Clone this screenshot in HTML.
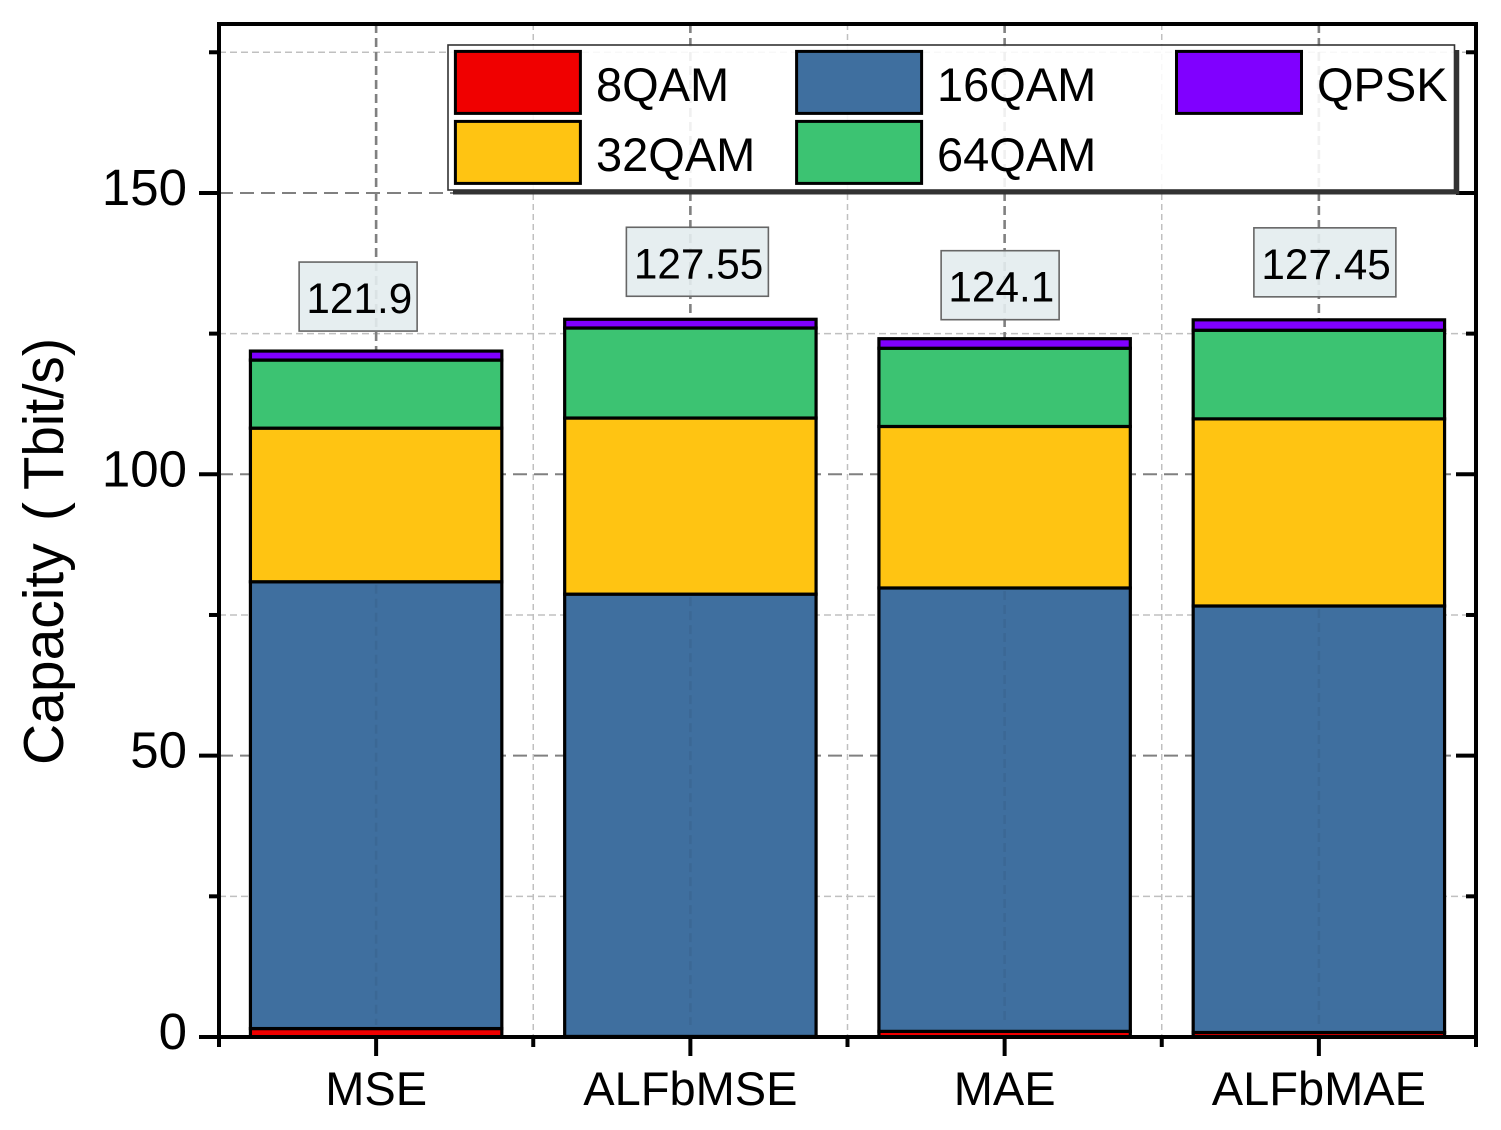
<!DOCTYPE html>
<html lang="en">
<head>
<meta charset="utf-8">
<title>Capacity by loss function</title>
<style>
html,body{margin:0;padding:0;background:#fff;width:1501px;height:1130px;overflow:hidden}
svg{display:block}
text{font-family:"Liberation Sans",Arial,sans-serif;fill:#000}
</style>
</head>
<body>
<svg id="chart" xmlns="http://www.w3.org/2000/svg" width="1501" height="1130" viewBox="0 0 1501 1130"></svg>
<script>
// Chart data
const categories = ['MSE', 'ALFbMSE', 'MAE', 'ALFbMAE'];
const seriesNames = ['8QAM', '16QAM', '32QAM', '64QAM', 'QPSK'];
const qam8 = [1.5, 0.1, 1.0, 0.8];
const qam16 = [79.4, 78.6, 78.8, 75.8];
const qam32 = [27.3, 31.3, 28.7, 33.25];
const qam64 = [12.1, 16.0, 13.9, 15.75];
const qpsk = [1.6, 1.55, 1.7, 1.85];
const totals = ['121.9', '127.55', '124.1', '127.45'];
const yMajorTicks = [0, 50, 100, 150];
const yMinorTicks = [25, 75, 125, 175];

// Layout
const NS = 'http://www.w3.org/2000/svg';
const svg = document.getElementById('chart');
const plot = {left: 219, right: 1476, top: 24, bottom: 1037};
const yPerUnit = 5.627;
const xSlot = (plot.right - plot.left) / categories.length;
const barWidth = xSlot * 0.8;
const colors = ['#F00000', '#3F6F9F', '#FFC412', '#3CC372', '#8000FF'];
const seriesValues = [qam8, qam16, qam32, qam64, qpsk];
const sum = (i, n) => seriesValues.slice(0, n).reduce((s, v) => s + v[i], 0);
const yScale = v => plot.bottom - v * yPerUnit;
const xScale = i => plot.left + xSlot * (i + 0.5);

function make(tag, attrs, parent, txt) {
  const el = document.createElementNS(NS, tag);
  for (const k in attrs) el.setAttribute(k, attrs[k]);
  if (txt !== undefined) el.textContent = txt;
  (parent || svg).appendChild(el);
  return el;
}

// Grid
const gridLayer = make('g', {});


yMajorTicks.slice(1).forEach(v => {
  const l = make('line', {x1: plot.left, x2: plot.right, y1: yScale(v), y2: yScale(v), stroke: '#808080', 'stroke-width': 2, 'stroke-dasharray': '14 7'}, gridLayer);
  
  
});
yMinorTicks.forEach(v => {
  const l = make('line', {x1: plot.left, x2: plot.right, y1: yScale(v), y2: yScale(v), stroke: '#c0c0c0', 'stroke-width': 1.5, 'stroke-dasharray': '7 4'}, gridLayer);
  
  
});
categories.forEach((c, i) => {
  const l = make('line', {x1: xScale(i), x2: xScale(i), y1: plot.top, y2: plot.bottom, stroke: '#808080', 'stroke-width': 2.6, 'stroke-dasharray': '9 5'}, gridLayer);
  
  
});
for (let i = 1; i < categories.length; i++) {
  const x = plot.left + xSlot * i;
  const l = make('line', {x1: x, x2: x, y1: plot.top, y2: plot.bottom, stroke: '#c0c0c0', 'stroke-width': 1.5, 'stroke-dasharray': '6 4'}, gridLayer);
  
  
}

// Stacked bars
categories.forEach((c, i) => {
  const group = make('g', {});
  
  
  seriesNames.forEach((name, s) => {
    const y0 = yScale(sum(i, s));
    const y1 = yScale(sum(i, s + 1));
    const r = make('rect', {x: xScale(i) - barWidth / 2, y: y1, width: barWidth, height: y0 - y1, fill: colors[s], stroke: '#000', 'stroke-width': 3.2}, group);
    
    
  });
  // the centre gridline shows faintly through the bar
  const ghost = make('line', {x1: xScale(i), x2: xScale(i), y1: yScale(sum(i, 2)) + 3, y2: plot.bottom - 12, stroke: '#000', 'stroke-opacity': 0.06, 'stroke-width': 2.6, 'stroke-dasharray': '9 5'}, group);
  
  
});

// Total value labels, offset from their bar by hand as in the original figure
const labelShiftX = [-18, 7, -4.5, 6];
const labelGapY = [20, 23, 19, 23];
totals.forEach((t, i) => {
  const top = yScale(sum(i, seriesNames.length));
  const w = t.length > 5 ? 142 : 118;
  const cx = xScale(i) + labelShiftX[i];
  const bottom = top - labelGapY[i];
  const box = make('rect', {x: cx - w / 2, y: bottom - 69, width: w, height: 69, fill: '#E3ECEE', 'fill-opacity': 0.9, stroke: '#666', 'stroke-width': 1.6});
  
  
  const label = make('text', {x: cx + 1.2, y: bottom - 18, 'text-anchor': 'middle', 'font-size': 42.3}, svg, t);
  
  
});

// Axes and ticks
const axisLayer = make('g', {stroke: '#000', 'stroke-width': 4});


const frame = make('rect', {x: plot.left, y: plot.top, width: plot.right - plot.left, height: plot.bottom - plot.top, fill: 'none'}, axisLayer);


yMajorTicks.forEach(v => {
  const y = yScale(v);
  const a = make('line', {x1: plot.left - 20, x2: plot.left, y1: y, y2: y}, axisLayer);
  
  
  const b = make('line', {x1: plot.right - 20, x2: plot.right, y1: y, y2: y}, axisLayer);
  
  
  const t = make('text', {x: 187, y: y + 12, 'text-anchor': 'end', 'font-size': 51, stroke: 'none'}, svg, String(v));
  
  
});
yMinorTicks.forEach(v => {
  const y = yScale(v);
  const a = make('line', {x1: plot.left - 10, x2: plot.left, y1: y, y2: y}, axisLayer);
  
  
  const b = make('line', {x1: plot.right - 10, x2: plot.right, y1: y, y2: y}, axisLayer);
  
  
});
categories.forEach((c, i) => {
  const x = xScale(i);
  const a = make('line', {x1: x, x2: x, y1: plot.bottom, y2: plot.bottom + 19}, axisLayer);
  
  
  const t = make('text', {x: x, y: 1105, 'text-anchor': 'middle', 'font-size': 47}, svg, c);
  
  
});
for (let i = 0; i <= categories.length; i++) {
  const x = plot.left + xSlot * i;
  const a = make('line', {x1: x, x2: x, y1: plot.bottom, y2: plot.bottom + 10}, axisLayer);
  
  
}

// Y axis title
const yTitle = make('text', {transform: 'translate(63,765) rotate(-90)', 'font-size': 57}, svg);


make('tspan', {x: 0}, yTitle, 'Capacity ');
make('tspan', {x: 244}, yTitle, '( ');
make('tspan', {x: 275, textLength: 152, lengthAdjust: 'spacingAndGlyphs'}, yTitle, 'Tbit/s)');

// Legend
const legend = make('g', {});


const shadow = make('path', {d: 'M453 192.3H1457V50', fill: 'none', stroke: '#333', 'stroke-width': 4.5}, legend);


const legendBox = make('rect', {x: 448, y: 45, width: 1006.5, height: 145, fill: '#fff', 'fill-opacity': 0.88, stroke: '#333', 'stroke-width': 1.6}, legend);


const legendOrder = [0, 1, 4, 2, 3];
const legendCols = [[455.4, 596], [796.6, 937], [1176.5, 1317]];
const legendRows = [[51.4, 101], [121.4, 171]];
legendOrder.forEach((s, k) => {
  const col = legendCols[k < 3 ? k : k - 3];
  const row = legendRows[k < 3 ? 0 : 1];
  const entry = make('g', {}, legend);
  
  
  const sw = make('rect', {x: col[0], y: row[0], width: 125, height: 62, fill: colors[s], stroke: '#000', 'stroke-width': 3}, entry);
  
  
  const t = make('text', {x: col[1], y: row[1], 'font-size': 47}, entry, seriesNames[s]);
  
  
});
</script>
</body>
</html>
